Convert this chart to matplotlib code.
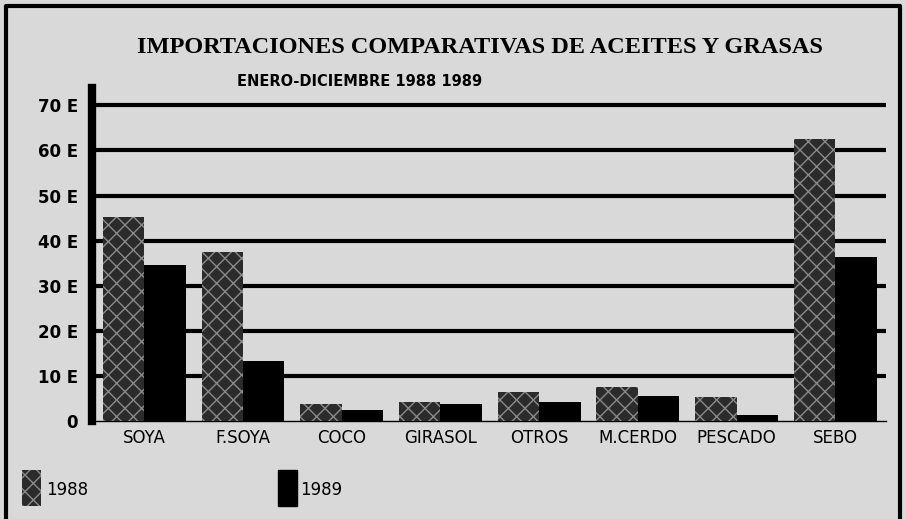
import matplotlib
matplotlib.use("Agg")
import matplotlib.pyplot as plt
from matplotlib.patches import Rectangle
from matplotlib.lines import Line2D
import numpy as np

# data (miles de toneladas, approx.)
categorias = ["SOYA", "F.SOYA", "COCO", "GIRASOL", "OTROS", "M.CERDO", "PESCADO", "SEBO"]
v1988 = [45.3, 37.5, 3.8, 4.3, 6.5, 7.6, 5.3, 62.6]
v1989 = [34.6, 13.3, 2.5, 3.8, 4.1, 5.6, 1.4, 36.4]
yticks = [0, 10, 20, 30, 40, 50, 60, 70]
ytick_labels = ["0", "10 E", "20 E", "30 E", "40 E", "50 E", "60 E", "70 E"]

bg = "#d9d9d9"
narrow = ["Liberation Sans Narrow", "DejaVu Sans"]

fig = plt.figure(figsize=(9.06, 5.19), dpi=100)
fig.patch.set_facecolor(bg)

ax = fig.add_axes([0.1015, 0.189, 0.876, 0.641])
ax.set_facecolor(bg)

x = np.arange(len(categorias))
w = 0.42
ax.bar(x - w / 2, v1988, w, facecolor="#2b2b2b", edgecolor="#8a8a8a",
       hatch="xx", linewidth=0, zorder=3)
ax.bar(x + w / 2, v1989, w, color="black", linewidth=0, zorder=3)

ax.set_xlim(-0.53, 7.51)
ax.set_ylim(0, 73.8)
ax.set_yticks(yticks)
ax.set_yticklabels(ytick_labels, family=narrow, fontsize=12, fontweight="bold")
ax.set_xticks(x)
ax.set_xticklabels(categorias, family=narrow, fontsize=12)
ax.tick_params(length=0, pad=6)
ax.tick_params(axis="y", pad=10)
for y in yticks[1:]:
    ax.axhline(y, color="black", linewidth=3, zorder=1)

for s in ["top", "right"]:
    ax.spines[s].set_visible(False)
ax.spines["left"].set_linewidth(6)
ax.spines["bottom"].set_linewidth(1)

fig.text(0.53, 0.908, "IMPORTACIONES COMPARATIVAS DE ACEITES Y GRASAS",
         ha="center", va="center", family=["Liberation Serif", "DejaVu Serif"],
         fontsize=17.5, fontweight="bold")
fig.text(360 / 906, 1 - 82 / 519, "ENERO-DICIEMBRE 1988 1989", ha="center",
         va="center", family=narrow, fontsize=10.5, fontweight="bold")

# legend at the bottom
fig.patches.append(Rectangle((22 / 906, 1 - 506 / 519), 19 / 906, 36 / 519,
                             transform=fig.transFigure, facecolor="#2b2b2b",
                             edgecolor="#8a8a8a", hatch="xx", linewidth=0))
fig.text(46 / 906, 1 - 490 / 519, "1988", family=narrow, fontsize=12, va="center")
fig.patches.append(Rectangle((278 / 906, 1 - 506 / 519), 19 / 906, 36 / 519,
                             transform=fig.transFigure, color="black"))
fig.text(300 / 906, 1 - 490 / 519, "1989", family=narrow, fontsize=12, va="center")

# outer frame of the scanned page
fx = [6 / 906, 6 / 906, 900 / 906, 900 / 906]
fy = [0, 1 - 6 / 519, 1 - 6 / 519, 0]
fig.lines.append(Line2D(fx, fy, transform=fig.transFigure, color="black", linewidth=3))

fig.savefig("out.png", dpi=100, facecolor=bg)
